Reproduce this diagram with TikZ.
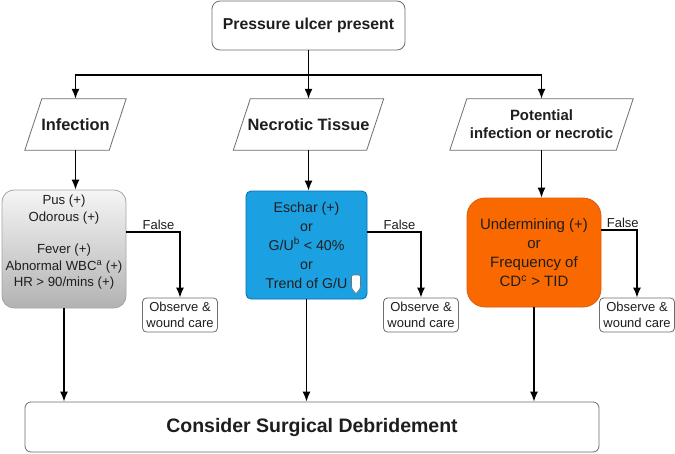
\documentclass[tikz,border=0pt]{standalone}
\usepackage{fontspec}
\setmainfont{Liberation Sans}
\usetikzlibrary{arrows.meta,calc,positioning}
\definecolor{borderColor}{RGB}{110,110,110}
\definecolor{textColor}{RGB}{30,30,30}
\definecolor{necroticColor}{RGB}{27,161,226}
\definecolor{necroticBorder}{RGB}{0,110,175}
\definecolor{potentialColor}{RGB}{250,104,0}
\definecolor{potentialBorder}{RGB}{220,90,10}
\tikzset{box/.style={draw=borderColor, line width=0.8pt, align=center, inner sep=0pt, rounded corners=6pt, text=textColor}}
\tikzset{decision/.style={align=center, inner sep=0pt, text=textColor, minimum height=51pt, font=\fontsize{16.4}{18}\selectfont\bfseries}}
\tikzset{slanted/.style={draw=borderColor, line width=0.8pt}}
\tikzset{check/.style={box, font=\fontsize{14.2}{19}\selectfont}}
\tikzset{observe/.style={box, rounded corners=4pt, minimum width=75pt, minimum height=34pt, font=\fontsize{13}{16.3}\selectfont}}
\tikzset{flow/.style={-{Latex[length=10pt,width=8pt]}, line width=1.5pt}}

\begin{document}
\begin{tikzpicture}[x=1pt, y=-1pt]
\useasboundingbox[fill=white] (0,0) rectangle (675,453);
% Nodes
\node (Pressure) [box, rounded corners=8pt, minimum width=193pt, minimum height=49pt, font=\fontsize{15.8}{18}\selectfont\bfseries] at (308.5,25.5) {Pressure ulcer present};
\coordinate (Bus) at (308.5,75);

\node (Infection) [decision, minimum width=84pt] at (75.5,124.5) {Infection};
\node (Necrotic) [decision, minimum width=133pt] at (308.5,124.5) {Necrotic Tissue};
\node (Potential) [decision, minimum width=166pt, font=\fontsize{14.9}{18}\selectfont\bfseries] at (541.5,124.5) {Potential\\ infection or necrotic};
\foreach \n in {Infection, Necrotic, Potential}
  \draw [slanted] ([xshift=-8.5pt]\n.south west) -- ([xshift=-8.5pt]\n.south east) -- ([xshift=8.5pt]\n.north east) -- ([xshift=8.5pt]\n.north west) -- cycle;

\node (InfectionCheck) [check, rounded corners=12pt, draw=black!35, top color=black!4, bottom color=black!30, minimum width=124pt, minimum height=118pt, font=\fontsize{13.2}{16.5}\selectfont] at (64,249) {Pus (+)\\ Odorous (+)\\[16pt] Fever (+)\\ Abnormal WBC\textsuperscript{a} (+)\\ HR > 90/mins (+)\\ \mbox{}};
\node (NecroticCheck) [check, fill=necroticColor, draw=necroticBorder, rounded corners=5pt, minimum width=121pt, minimum height=108pt] at (306.5,245) {Eschar (+)\\ or\\ G/U\textsuperscript{b} < 40\%\\ or\\ Trend of G/U\hspace{14pt}};
\node (PotentialCheck) [check, fill=potentialColor, draw=potentialBorder, rounded corners=18pt, minimum width=134pt, minimum height=109pt, font=\fontsize{15}{19}\selectfont] at (534,252.5) {Undermining (+)\\ or\\ Frequency of\\ CD\textsuperscript{c} > TID};

\node (InfectionCare) [observe] at (180,315) {Observe \&\\ wound care};
\node (NecroticCare) [observe] at (421,315) {Observe \&\\ wound care};
\node (PotentialCare) [observe] at (637,315) {Observe \&\\ wound care};

\node (Debridement) [box, minimum width=574pt, minimum height=50pt, font=\fontsize{19.5}{22}\selectfont\bfseries] at (312,427) {Consider Surgical Debridement};

% trend marker
\draw [draw=black!55, fill=white, line width=0.6pt, rounded corners=1.5pt] ($(NecroticCheck.center)+(45,30)$) -- ++(9,0) -- ++(0,13) -- ++(-4.5,6) -- ++(-4.5,-6) -- cycle;

% Connectors
\begin{scope}[flow]
\draw [-] (Pressure.south) -- (Bus);
\draw (Bus) -| (Infection.north);
\draw (Bus) -- (Necrotic.north);
\draw (Bus) -| (Potential.north);

\draw (Infection.south) -- (Infection.south |- InfectionCheck.north);
\draw (Necrotic.south) -- (Necrotic.south |- NecroticCheck.north);
\draw (Potential.south) -- (Potential.south |- PotentialCheck.north);

\draw ([yshift=17pt]InfectionCheck.east) -| node[pos=0.3, above, inner sep=2pt, font=\fontsize{13}{15}\selectfont, text=textColor] {False} (InfectionCare.north);
\draw ([yshift=13pt]NecroticCheck.east) -| node[pos=0.3, above, inner sep=2pt, font=\fontsize{13}{15}\selectfont, text=textColor] {False} (NecroticCare.north);
\draw ([yshift=22.5pt]PotentialCheck.east) -| node[pos=0.3, above, inner sep=2pt, font=\fontsize{13}{15}\selectfont, text=textColor] {False} (PotentialCare.north);

\draw (InfectionCheck.south) -- (InfectionCheck.south |- Debridement.north);
\draw (NecroticCheck.south) -- (NecroticCheck.south |- Debridement.north);
\draw (PotentialCheck.south) -- (PotentialCheck.south |- Debridement.north);
\end{scope}

\end{tikzpicture}
\end{document}
